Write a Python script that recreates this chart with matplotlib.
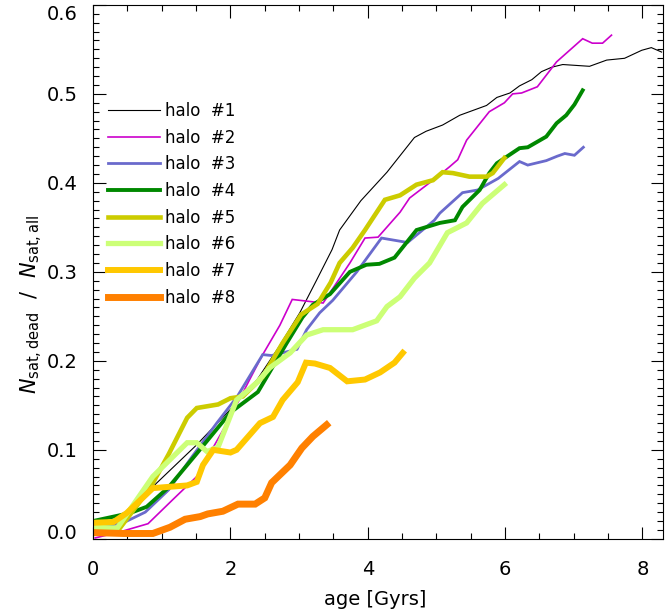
import matplotlib
matplotlib.use("Agg")
import matplotlib.pyplot as plt
from matplotlib.ticker import MultipleLocator

# fraction of dead satellites vs age, one curve per halo
x1 = [0, 0.5, 0.93, 1.5, 2.18, 2.39, 2.7, 3.01, 3.25, 3.48, 3.59, 3.9, 4.28, 4.68, 4.85, 5.09, 5.34,
      5.73, 5.88, 6.07, 6.21, 6.39, 6.53, 6.68, 6.84, 7.23, 7.48, 7.74, 7.99, 8.13, 8.28]
y1 = [0.006, 0.03, 0.063, 0.105, 0.16, 0.179, 0.215, 0.254, 0.29, 0.325, 0.347, 0.38, 0.412, 0.451,
      0.458, 0.465, 0.476, 0.487, 0.496, 0.501, 0.509, 0.516, 0.525, 0.530, 0.533, 0.531, 0.538,
      0.540, 0.549, 0.552, 0.547]

x2 = [0.03, 0.4, 0.8, 1.16, 1.51, 2.0, 2.28, 2.47, 2.72, 2.9, 3.35, 3.74, 3.96, 4.15, 4.47, 4.61,
      4.95, 5.19, 5.31, 5.44, 5.77, 5.99, 6.11, 6.24, 6.47, 6.75, 7.13, 7.27, 7.42, 7.55]
y2 = [0.001, 0.008, 0.017, 0.044, 0.07, 0.137, 0.179, 0.207, 0.24, 0.269, 0.265, 0.31, 0.338, 0.339,
      0.367, 0.383, 0.403, 0.418, 0.426, 0.448, 0.480, 0.49, 0.5, 0.501, 0.508, 0.536, 0.562, 0.557,
      0.557, 0.566]

x3 = [0, 0.44, 0.76, 1.1, 1.41, 1.8, 2.1, 2.47, 2.6, 2.97, 3.11, 3.3, 3.49, 3.84, 4.2, 4.58, 4.97,
      5.05, 5.38, 5.6, 5.9, 6.21, 6.33, 6.6, 6.76, 6.87, 7.01, 7.14]
y3 = [0.012, 0.018, 0.03, 0.055, 0.089, 0.13, 0.16, 0.207, 0.206, 0.213, 0.235, 0.254, 0.268, 0.3,
      0.338, 0.333, 0.358, 0.366, 0.389, 0.392, 0.405, 0.424, 0.42, 0.425, 0.43, 0.433, 0.431, 0.44]

x4 = [0, 0.54, 0.78, 1.1, 1.5, 2.0, 2.4, 2.82, 3.05, 3.2, 3.45, 3.74, 3.98, 4.17, 4.39, 4.71, 5.05,
      5.27, 5.38, 5.63, 5.77, 5.88, 6.21, 6.33, 6.6, 6.75, 6.89, 7.01, 7.13]
y4 = [0.02, 0.029, 0.036, 0.058, 0.095, 0.142, 0.165, 0.22, 0.249, 0.263, 0.275, 0.3, 0.308, 0.309,
      0.316, 0.347, 0.355, 0.358, 0.373, 0.392, 0.411, 0.422, 0.439, 0.44, 0.452, 0.467, 0.476,
      0.488, 0.504]

x5 = [0, 0.39, 0.83, 1.1, 1.37, 1.51, 1.82, 2.0, 2.18, 2.47, 2.76, 3.03, 3.27, 3.46, 3.59, 3.78,
      3.96, 4.25, 4.47, 4.71, 4.95, 5.09, 5.24, 5.48, 5.73, 5.82, 5.99]
y5 = [0.012, 0.012, 0.057, 0.095, 0.136, 0.147, 0.151, 0.158, 0.16, 0.182, 0.22, 0.252, 0.264,
      0.288, 0.31, 0.327, 0.347, 0.381, 0.386, 0.398, 0.403, 0.412, 0.411, 0.407, 0.407, 0.411, 0.428]

x6 = [0, 0.35, 0.87, 1.37, 1.51, 1.66, 1.82, 2.09, 2.39, 2.57, 2.87, 3.11, 3.35, 3.78, 4.13, 4.28,
      4.47, 4.68, 4.9, 5.16, 5.44, 5.67, 5.99]
y6 = [0.013, 0.012, 0.07, 0.108, 0.108, 0.098, 0.103, 0.156, 0.176, 0.192, 0.209, 0.229, 0.235,
      0.235, 0.245, 0.261, 0.272, 0.293, 0.31, 0.344, 0.355, 0.377, 0.398]

x7 = [0, 0.3, 0.49, 0.87, 1.37, 1.51, 1.6, 1.75, 2.0, 2.09, 2.43, 2.62, 2.76, 2.98, 3.1, 3.23, 3.45,
      3.7, 3.96, 4.18, 4.39, 4.51]
y7 = [0.018, 0.019, 0.029, 0.057, 0.06, 0.064, 0.083, 0.1, 0.097, 0.1, 0.13, 0.137, 0.156, 0.176,
      0.198, 0.197, 0.192, 0.177, 0.179, 0.187, 0.198, 0.209]

x8 = [0, 0.44, 0.87, 1.12, 1.34, 1.56, 1.67, 1.89, 2.11, 2.36, 2.5, 2.6, 2.87, 3.04, 3.2, 3.4]
y8 = [0.007, 0.006, 0.006, 0.013, 0.022, 0.025, 0.028, 0.031, 0.039, 0.039, 0.046, 0.063, 0.083,
      0.102, 0.115, 0.128]

labels = ['halo  #1', 'halo  #2', 'halo  #3', 'halo  #4',
          'halo  #5', 'halo  #6', 'halo  #7', 'halo  #8']
colors = ['black', '#CC00CC', '#6A6ACC', '#008800', '#CCCC00', '#CCFF77', '#FFC800', '#FF8000']
widths = [0.8, 1.2, 2.0, 2.8, 3.3, 3.8, 4.3, 5.0]

yticks = [0.0, 0.1, 0.2, 0.3, 0.4, 0.5, 0.6]

fig = plt.figure(figsize=(6.65, 6.13), dpi=100)
ax = fig.add_axes([0.14, 0.121, 0.857, 0.871])

series = [(x1, y1), (x2, y2), (x3, y3), (x4, y4), (x5, y5), (x6, y6), (x7, y7), (x8, y8)]
for (xs, ys), lab, col, lw in zip(series, labels, colors, widths):
    ax.plot(xs, ys, color=col, lw=lw, label=lab, solid_joinstyle='miter')

ax.set_xlim(0, 8.3)
ax.set_ylim(0, 0.6)
ax.xaxis.set_major_locator(MultipleLocator(2))
ax.xaxis.set_minor_locator(MultipleLocator(0.5))
ax.set_yticks(yticks)
ax.set_yticklabels([f'{v:.1f}' for v in yticks])
ax.yaxis.set_minor_locator(MultipleLocator(0.01))

ax.tick_params(which='both', direction='in', top=True, right=True, labelsize=14, colors='black')
ax.tick_params(which='major', length=9, width=0.8)
ax.tick_params(which='minor', length=4.5, width=0.8)
ax.tick_params(axis='x', which='major', pad=15)
ax.tick_params(axis='y', which='major', pad=11)
for s in ax.spines.values():
    s.set_linewidth(0.8)

# IDL-style label placement at the ends of the y axis
ylabs = ax.get_yticklabels()
ylabs[0].set_va('baseline')
ylabs[-1].set_va('top')

ax.set_xlabel('age [Gyrs]', fontsize=14)
ax.xaxis.set_label_coords(0.495, -0.095)
ax.set_ylabel(r'$N_{\rm sat,dead}$  /  $N_{\rm sat,all}$', fontsize=15)
ax.yaxis.set_label_coords(-0.085, 0.44)

ax.legend(loc='upper left', bbox_to_anchor=(0.006, 0.84), frameon=False, fontsize=12,
          handlelength=3.1, handletextpad=0.3, labelspacing=0.52, borderaxespad=0.3)

fig.savefig('out.png', dpi=100)
